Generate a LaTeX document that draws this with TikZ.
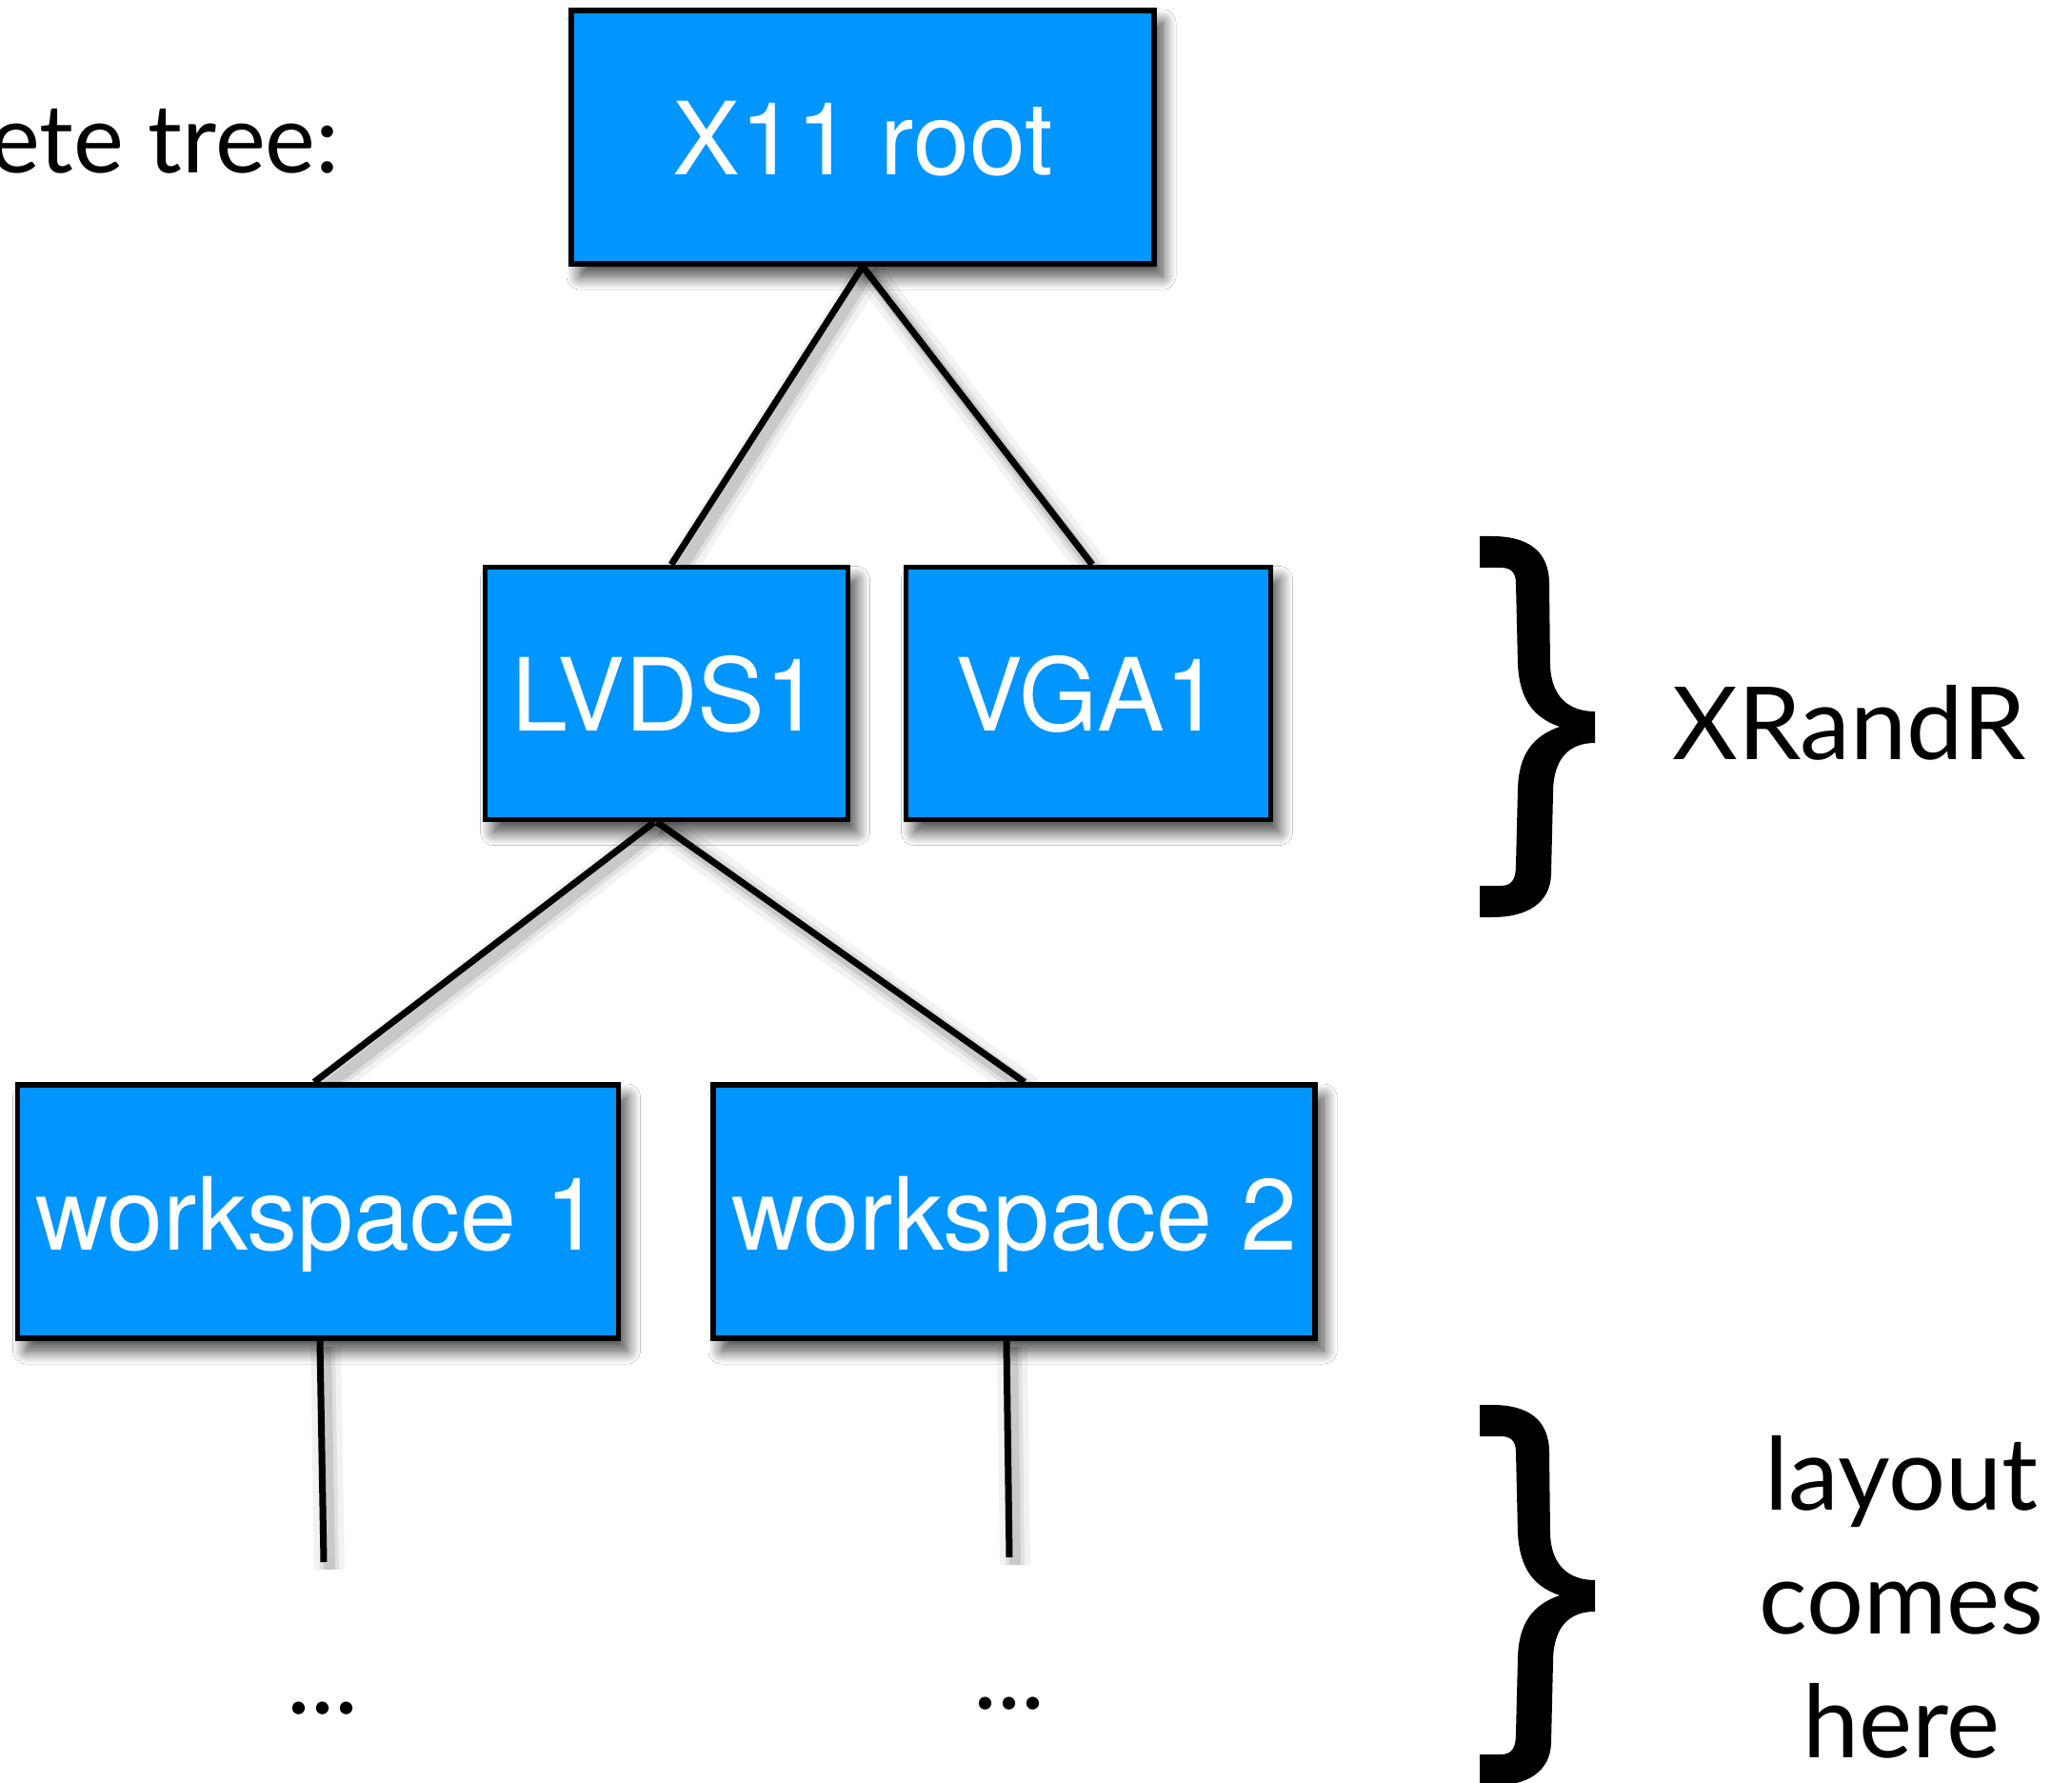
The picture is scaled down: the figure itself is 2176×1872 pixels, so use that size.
\documentclass[tikz,border=0pt]{standalone}
\usepackage{fontspec}
\setmainfont{Lato}
\newfontfamily\helv{TeX Gyre Heros}
\usetikzlibrary{shadows.blur,calc,backgrounds}
\definecolor{boxblue}{RGB}{0,149,255}
\newcommand\mybracepath{(0,0) -- (13,0) .. controls (50,0) and (73,15) .. (73,50) -- (74,135) .. controls (75,170) and (95,184) .. (121,184) -- (121,217) .. controls (95,217) and (77,232) .. (77,270) -- (75,355) .. controls (74,385) and (50,400) .. (13,400) -- (0,400) -- (0,367) -- (22,367) .. controls (34,367) and (38,360) .. (38,345) -- (40,265) .. controls (41,230) and (55,210) .. (84,200) .. controls (55,190) and (42,170) .. (40,135) -- (38,50) .. controls (38,38) and (33,33) .. (22,33) -- (0,33) -- cycle}
\tikzset{
  tbox/.style={draw=black, line width=2.75pt, fill=boxblue, inner sep=0pt,
    text=white, font=\helv\fontsize{53}{60}\selectfont,
    text height=40pt, text depth=0pt,
    blur shadow={shadow xshift=4.5pt, shadow yshift=-6.5pt, shadow blur radius=7pt,
      shadow blur steps=16, shadow opacity=75}},
  conn/.style={draw=black, line width=3.5pt},
  lshadowa/.style={draw=black, opacity=.05, line width=16pt,
    transform canvas={shift={(3pt,-4pt)}}},
  lshadowb/.style={draw=black, opacity=.07, line width=10pt,
    transform canvas={shift={(3pt,-4pt)}}},
  lshadowc/.style={draw=black, opacity=.10, line width=6pt,
    transform canvas={shift={(3pt,-4pt)}}},
  lbl/.style={inner sep=0pt, text=black, font=\fontsize{53}{65}\selectfont},
}
\begin{document}
\begin{tikzpicture}[x=0.5pt, y=-0.5pt]
\useasboundingbox[fill=white] (0,0) rectangle (2176,1872);

\coordinate (e1) at (340,1640);
\coordinate (e2) at (1060,1635);
\coordinate (rs) at (906,278);
\coordinate (ln) at (705,595);
\coordinate (vn) at (1147,595);
\coordinate (ls1) at (687,861);
\coordinate (ls2) at (690,861);
\coordinate (w1n) at (330,1138);
\coordinate (w2n) at (1076,1138);
\coordinate (w1s) at (336,1406);
\coordinate (w2s) at (1057,1406);

\foreach \s in {lshadowa,lshadowb,lshadowc}{
  \draw[\s] (rs) -- (ln);
  \draw[\s] (rs) -- (vn);
  \draw[\s] (ls1) -- (w1n);
  \draw[\s] (ls2) -- (w2n);
  \draw[\s] (w1s) -- (e1);
  \draw[\s] (w2s) -- (e2);
}

\node[tbox, minimum width=306pt, minimum height=133pt] (root) at (906,144) {X11 root};
\node[tbox, minimum width=190.5pt, minimum height=132.5pt] (L) at (700,728) {LVDS1};
\node[tbox, minimum width=191.5pt, minimum height=132.5pt] (V) at (1143,728) {VGA1};
\node[tbox, minimum width=315.5pt, minimum height=133pt] (W1) at (334,1272) {workspace 1};
\node[tbox, minimum width=316pt, minimum height=133pt] (W2) at (1065,1272) {workspace 2};

\draw[conn] (root.south) -- ($(L.north)+(5,0)$);
\draw[conn] (root.south) -- ($(V.north)+(4,0)$);
\draw[conn] ($(L.south)+(-13,0)$) -- ($(W1.north)+(-4,0)$);
\draw[conn] ($(L.south)+(-10,0)$) -- ($(W2.north)+(11,0)$);
\draw[conn] ($(W1.south)+(2,0)$) -- (e1);
\draw[conn] ($(W2.south)+(-8,0)$) -- (e2);

\node[lbl] (d1) at (339,1794) {...};
\node[lbl] (d2) at (1060,1789) {...};

\node[lbl, font=\fontsize{50}{60}\selectfont, anchor=base east] (title) at (357,182) {ete tree:};

\begin{scope}[shift={(1554,563)}]
\fill[black] \mybracepath;
\end{scope}
\begin{scope}[shift={(1554,1475)}]
\fill[black] \mybracepath;
\end{scope}

\node[lbl, anchor=base west] (xr) at (1756,798) {XRandR};
\node[lbl, anchor=base] (la) at (1997,1585) {layout};
\node[lbl, anchor=base] (lb) at (1997,1715) {comes};
\node[lbl, anchor=base] (lc) at (1997,1845) {here};
\end{tikzpicture}
\end{document}
